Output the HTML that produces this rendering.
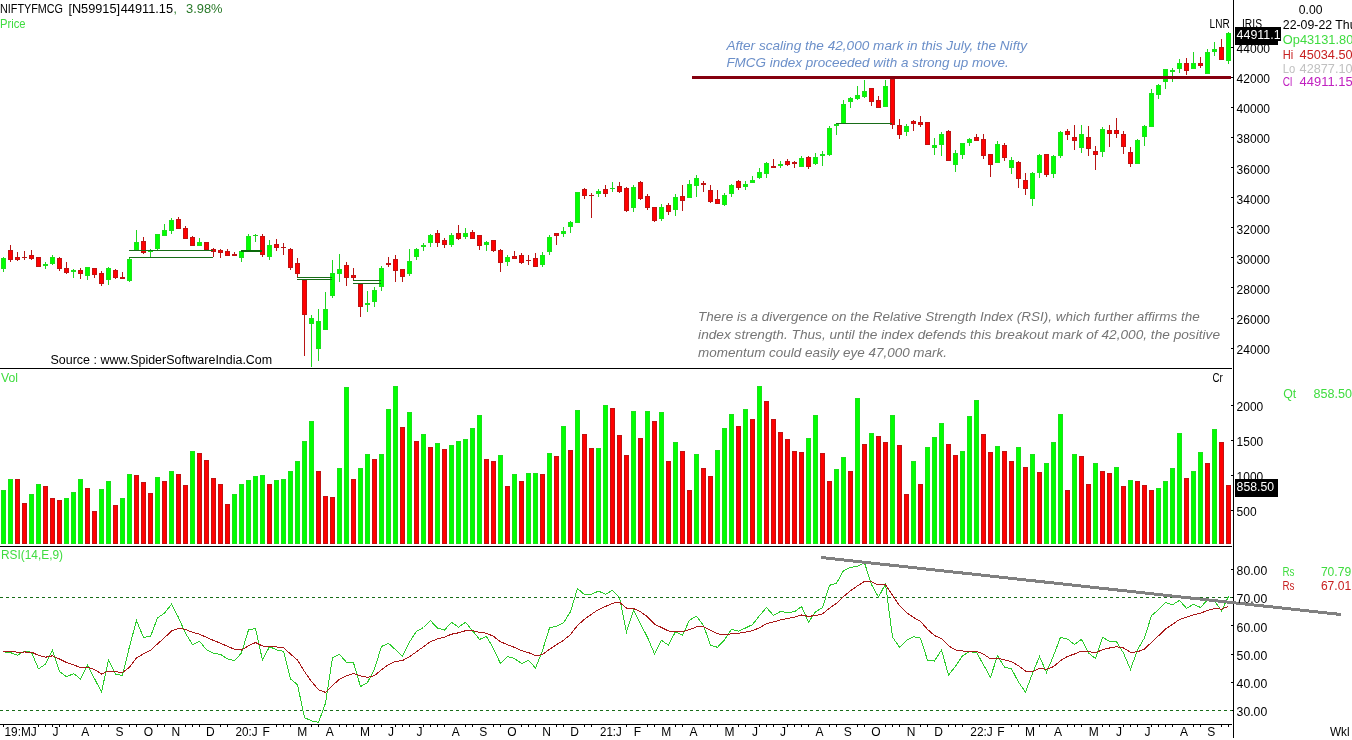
<!DOCTYPE html>
<html><head><meta charset="utf-8"><title>NIFTYFMCG Weekly Chart</title>
<style>html,body{margin:0;padding:0;background:#fff}body{width:1352px;height:740px;overflow:hidden}svg{display:block}text{font-family:"Liberation Sans",sans-serif;font-size:12px}.it{font-style:italic;font-size:13.2px}.g{fill:#00ff00;stroke:#1ce01c}.r{fill:#ff0000;stroke:#c01212}.gw{fill:#1fd51f}.rw{fill:#b81414}</style></head><body>
<svg width="1352" height="740" viewBox="0 0 1352 740">
<rect x="0" y="0" width="1352" height="740" fill="#fff"/>
<g shape-rendering="crispEdges" fill="#000">
<rect x="1233" y="0" width="1" height="738"/>
<rect x="0" y="368" width="1232" height="1"/>
<rect x="0" y="546" width="1232" height="1"/>
<rect x="0" y="724" width="1232" height="1"/>
<rect x="1231" y="348" width="2" height="1"/>
<rect x="1231" y="318" width="2" height="1"/>
<rect x="1231" y="287" width="2" height="1"/>
<rect x="1231" y="257" width="2" height="1"/>
<rect x="1231" y="227" width="2" height="1"/>
<rect x="1231" y="197" width="2" height="1"/>
<rect x="1231" y="167" width="2" height="1"/>
<rect x="1231" y="137" width="2" height="1"/>
<rect x="1231" y="107" width="2" height="1"/>
<rect x="1231" y="77" width="2" height="1"/>
<rect x="1231" y="47" width="2" height="1"/>
<rect x="1231" y="510" width="2" height="1"/>
<rect x="1231" y="475" width="2" height="1"/>
<rect x="1231" y="440" width="2" height="1"/>
<rect x="1231" y="405" width="2" height="1"/>
<rect x="1231" y="710" width="2" height="1"/>
<rect x="1231" y="682" width="2" height="1"/>
<rect x="1231" y="654" width="2" height="1"/>
<rect x="1231" y="625" width="2" height="1"/>
<rect x="1231" y="597" width="2" height="1"/>
<rect x="1231" y="569" width="2" height="1"/>
</g>
<g shape-rendering="crispEdges">
<rect class="gw" x="3" y="257" width="1" height="15"/>
<rect class="g" x="1.5" y="258.5" width="4" height="10"/>
<rect class="rw" x="10" y="245" width="1" height="17"/>
<rect class="r" x="8.5" y="250.5" width="4" height="9"/>
<rect class="rw" x="17" y="252" width="1" height="9"/>
<rect class="r" x="15.5" y="257.5" width="4" height="2"/>
<rect class="rw" x="24" y="251" width="1" height="9"/>
<rect class="rw" x="22" y="257" width="5" height="1"/>
<rect class="rw" x="31" y="250" width="1" height="10"/>
<rect class="r" x="29.5" y="255.5" width="4" height="3"/>
<rect class="r" x="36.5" y="257.5" width="4" height="9"/>
<rect class="gw" x="45" y="262" width="1" height="7"/>
<rect class="g" x="43.5" y="264.5" width="4" height="1"/>
<rect class="gw" x="52" y="255" width="1" height="10"/>
<rect class="g" x="50.5" y="257.5" width="4" height="6"/>
<rect class="rw" x="59" y="257" width="1" height="14"/>
<rect class="r" x="57.5" y="258.5" width="4" height="10"/>
<rect class="rw" x="66" y="262" width="1" height="12"/>
<rect class="r" x="64.5" y="268.5" width="4" height="4"/>
<rect class="gw" x="73" y="269" width="1" height="9"/>
<rect class="g" x="71.5" y="270.5" width="4" height="1"/>
<rect class="rw" x="80" y="268" width="1" height="11"/>
<rect class="r" x="78.5" y="270.5" width="4" height="3"/>
<rect class="gw" x="87" y="267" width="1" height="13"/>
<rect class="g" x="85.5" y="267.5" width="4" height="8"/>
<rect class="rw" x="94" y="268" width="1" height="10"/>
<rect class="r" x="92.5" y="268.5" width="4" height="6"/>
<rect class="rw" x="101" y="271" width="1" height="15"/>
<rect class="r" x="99.5" y="273.5" width="4" height="10"/>
<rect class="gw" x="108" y="267" width="1" height="18"/>
<rect class="g" x="106.5" y="268.5" width="4" height="11"/>
<rect class="rw" x="115" y="269" width="1" height="10"/>
<rect class="r" x="113.5" y="270.5" width="4" height="7"/>
<rect class="rw" x="122" y="272" width="1" height="7"/>
<rect class="r" x="120.5" y="277.5" width="4" height="1"/>
<rect class="gw" x="129" y="258" width="1" height="24"/>
<rect class="g" x="127.5" y="259.5" width="4" height="21"/>
<rect class="gw" x="136" y="230" width="1" height="21"/>
<rect class="g" x="134.5" y="242.5" width="4" height="7"/>
<rect class="rw" x="143" y="237" width="1" height="17"/>
<rect class="r" x="141.5" y="241.5" width="4" height="11"/>
<rect class="gw" x="150" y="249" width="1" height="8"/>
<rect class="g" x="148.5" y="250.5" width="4" height="1"/>
<rect class="gw" x="157" y="234" width="1" height="16"/>
<rect class="g" x="155.5" y="234.5" width="4" height="14"/>
<rect class="gw" x="164" y="224" width="1" height="12"/>
<rect class="g" x="162.5" y="230.5" width="4" height="5"/>
<rect class="gw" x="171" y="218" width="1" height="16"/>
<rect class="g" x="169.5" y="220.5" width="4" height="10"/>
<rect class="rw" x="178" y="217" width="1" height="12"/>
<rect class="r" x="176.5" y="219.5" width="4" height="9"/>
<rect class="rw" x="185" y="226" width="1" height="13"/>
<rect class="r" x="183.5" y="228.5" width="4" height="10"/>
<rect class="rw" x="192" y="236" width="1" height="10"/>
<rect class="r" x="190.5" y="237.5" width="4" height="8"/>
<rect class="gw" x="199" y="238" width="1" height="8"/>
<rect class="g" x="197.5" y="242.5" width="4" height="3"/>
<rect class="r" x="204.5" y="242.5" width="4" height="7"/>
<rect class="rw" x="213" y="248" width="1" height="9"/>
<rect class="r" x="211.5" y="249.5" width="4" height="2"/>
<rect class="rw" x="220" y="249" width="1" height="9"/>
<rect class="r" x="218.5" y="250.5" width="4" height="2"/>
<rect class="rw" x="227" y="249" width="1" height="7"/>
<rect class="r" x="225.5" y="251.5" width="4" height="4"/>
<rect class="rw" x="234" y="252" width="1" height="4"/>
<rect class="r" x="232.5" y="254.5" width="4" height="1"/>
<rect class="gw" x="241" y="250" width="1" height="12"/>
<rect class="g" x="239.5" y="251.5" width="4" height="6"/>
<rect class="gw" x="248" y="234" width="1" height="17"/>
<rect class="g" x="246.5" y="236.5" width="4" height="14"/>
<rect class="gw" x="255" y="234" width="1" height="8"/>
<rect class="gw" x="253" y="235" width="5" height="1"/>
<rect class="rw" x="262" y="234" width="1" height="23"/>
<rect class="r" x="260.5" y="236.5" width="4" height="18"/>
<rect class="gw" x="269" y="240" width="1" height="20"/>
<rect class="g" x="267.5" y="245.5" width="4" height="11"/>
<rect class="rw" x="276" y="239" width="1" height="12"/>
<rect class="r" x="274.5" y="244.5" width="4" height="3"/>
<rect class="rw" x="283" y="243" width="1" height="12"/>
<rect class="rw" x="281" y="247" width="5" height="1"/>
<rect class="rw" x="290" y="248" width="1" height="22"/>
<rect class="r" x="288.5" y="249.5" width="4" height="18"/>
<rect class="rw" x="297" y="258" width="1" height="19"/>
<rect class="r" x="295.5" y="263.5" width="4" height="10"/>
<rect class="rw" x="304" y="280" width="1" height="76"/>
<rect class="r" x="302.5" y="280.5" width="4" height="34"/>
<rect class="gw" x="311" y="315" width="1" height="52"/>
<rect class="g" x="309.5" y="318.5" width="4" height="5"/>
<rect class="gw" x="318" y="309" width="1" height="52"/>
<rect class="g" x="316.5" y="321.5" width="4" height="27"/>
<rect class="gw" x="325" y="292" width="1" height="38"/>
<rect class="g" x="323.5" y="309.5" width="4" height="20"/>
<rect class="gw" x="332" y="260" width="1" height="38"/>
<rect class="g" x="330.5" y="273.5" width="4" height="22"/>
<rect class="gw" x="339" y="254" width="1" height="28"/>
<rect class="g" x="337.5" y="269.5" width="4" height="4"/>
<rect class="rw" x="346" y="262" width="1" height="24"/>
<rect class="r" x="344.5" y="265.5" width="4" height="12"/>
<rect class="rw" x="353" y="268" width="1" height="12"/>
<rect class="r" x="351.5" y="275.5" width="4" height="2"/>
<rect class="rw" x="360" y="284" width="1" height="33"/>
<rect class="r" x="358.5" y="284.5" width="4" height="22"/>
<rect class="gw" x="367" y="291" width="1" height="21"/>
<rect class="g" x="365.5" y="303.5" width="4" height="1"/>
<rect class="gw" x="374" y="287" width="1" height="20"/>
<rect class="g" x="372.5" y="290.5" width="4" height="11"/>
<rect class="gw" x="381" y="266" width="1" height="25"/>
<rect class="g" x="379.5" y="268.5" width="4" height="18"/>
<rect class="rw" x="388" y="257" width="1" height="10"/>
<rect class="r" x="386.5" y="263.5" width="4" height="1"/>
<rect class="rw" x="395" y="255" width="1" height="27"/>
<rect class="r" x="393.5" y="259.5" width="4" height="11"/>
<rect class="rw" x="402" y="269" width="1" height="13"/>
<rect class="r" x="400.5" y="269.5" width="4" height="7"/>
<rect class="gw" x="409" y="249" width="1" height="27"/>
<rect class="g" x="407.5" y="261.5" width="4" height="12"/>
<rect class="gw" x="416" y="248" width="1" height="12"/>
<rect class="g" x="414.5" y="249.5" width="4" height="7"/>
<rect class="gw" x="423" y="243" width="1" height="8"/>
<rect class="g" x="421.5" y="245.5" width="4" height="1"/>
<rect class="gw" x="430" y="234" width="1" height="13"/>
<rect class="g" x="428.5" y="235.5" width="4" height="7"/>
<rect class="rw" x="437" y="230" width="1" height="17"/>
<rect class="r" x="435.5" y="233.5" width="4" height="9"/>
<rect class="rw" x="444" y="238" width="1" height="10"/>
<rect class="r" x="442.5" y="240.5" width="4" height="4"/>
<rect class="gw" x="451" y="233" width="1" height="14"/>
<rect class="g" x="449.5" y="235.5" width="4" height="9"/>
<rect class="rw" x="458" y="225" width="1" height="15"/>
<rect class="r" x="456.5" y="233.5" width="4" height="5"/>
<rect class="gw" x="465" y="228" width="1" height="11"/>
<rect class="g" x="463.5" y="233.5" width="4" height="3"/>
<rect class="rw" x="472" y="230" width="1" height="9"/>
<rect class="r" x="470.5" y="232.5" width="4" height="6"/>
<rect class="rw" x="479" y="235" width="1" height="15"/>
<rect class="r" x="477.5" y="235.5" width="4" height="10"/>
<rect class="gw" x="486" y="241" width="1" height="10"/>
<rect class="g" x="484.5" y="242.5" width="4" height="2"/>
<rect class="rw" x="493" y="240" width="1" height="12"/>
<rect class="r" x="491.5" y="240.5" width="4" height="10"/>
<rect class="rw" x="500" y="249" width="1" height="23"/>
<rect class="r" x="498.5" y="250.5" width="4" height="12"/>
<rect class="gw" x="507" y="255" width="1" height="11"/>
<rect class="g" x="505.5" y="257.5" width="4" height="4"/>
<rect class="rw" x="514" y="251" width="1" height="8"/>
<rect class="r" x="512.5" y="256.5" width="4" height="2"/>
<rect class="rw" x="521" y="253" width="1" height="11"/>
<rect class="r" x="519.5" y="255.5" width="4" height="7"/>
<rect class="rw" x="528" y="255" width="1" height="10"/>
<rect class="rw" x="526" y="260" width="5" height="1"/>
<rect class="rw" x="535" y="253" width="1" height="14"/>
<rect class="r" x="533.5" y="258.5" width="4" height="8"/>
<rect class="gw" x="542" y="252" width="1" height="15"/>
<rect class="g" x="540.5" y="255.5" width="4" height="9"/>
<rect class="gw" x="549" y="235" width="1" height="20"/>
<rect class="g" x="547.5" y="237.5" width="4" height="14"/>
<rect class="rw" x="556" y="233" width="1" height="12"/>
<rect class="r" x="554.5" y="233.5" width="4" height="2"/>
<rect class="gw" x="563" y="227" width="1" height="10"/>
<rect class="g" x="561.5" y="231.5" width="4" height="2"/>
<rect class="gw" x="570" y="221" width="1" height="12"/>
<rect class="g" x="568.5" y="222.5" width="4" height="4"/>
<rect class="g" x="575.5" y="192.5" width="4" height="30"/>
<rect class="rw" x="584" y="188" width="1" height="11"/>
<rect class="r" x="582.5" y="189.5" width="4" height="6"/>
<rect class="rw" x="591" y="193" width="1" height="25"/>
<rect class="rw" x="589" y="195" width="5" height="1"/>
<rect class="gw" x="598" y="189" width="1" height="8"/>
<rect class="g" x="596.5" y="191.5" width="4" height="2"/>
<rect class="rw" x="605" y="185" width="1" height="12"/>
<rect class="r" x="603.5" y="189.5" width="4" height="4"/>
<rect class="gw" x="612" y="182" width="1" height="10"/>
<rect class="gw" x="610" y="188" width="5" height="1"/>
<rect class="rw" x="619" y="182" width="1" height="11"/>
<rect class="r" x="617.5" y="186.5" width="4" height="5"/>
<rect class="rw" x="626" y="187" width="1" height="25"/>
<rect class="r" x="624.5" y="188.5" width="4" height="22"/>
<rect class="gw" x="633" y="185" width="1" height="27"/>
<rect class="g" x="631.5" y="187.5" width="4" height="20"/>
<rect class="rw" x="640" y="181" width="1" height="19"/>
<rect class="r" x="638.5" y="182.5" width="4" height="16"/>
<rect class="rw" x="647" y="194" width="1" height="16"/>
<rect class="r" x="645.5" y="196.5" width="4" height="11"/>
<rect class="rw" x="654" y="207" width="1" height="15"/>
<rect class="r" x="652.5" y="207.5" width="4" height="13"/>
<rect class="gw" x="661" y="204" width="1" height="17"/>
<rect class="g" x="659.5" y="207.5" width="4" height="11"/>
<rect class="rw" x="668" y="203" width="1" height="12"/>
<rect class="r" x="666.5" y="205.5" width="4" height="6"/>
<rect class="gw" x="675" y="194" width="1" height="22"/>
<rect class="g" x="673.5" y="197.5" width="4" height="12"/>
<rect class="rw" x="682" y="185" width="1" height="26"/>
<rect class="r" x="680.5" y="196.5" width="4" height="4"/>
<rect class="gw" x="689" y="180" width="1" height="18"/>
<rect class="g" x="687.5" y="184.5" width="4" height="13"/>
<rect class="gw" x="696" y="175" width="1" height="22"/>
<rect class="g" x="694.5" y="178.5" width="4" height="7"/>
<rect class="rw" x="703" y="181" width="1" height="11"/>
<rect class="r" x="701.5" y="183.5" width="4" height="1"/>
<rect class="rw" x="710" y="185" width="1" height="18"/>
<rect class="r" x="708.5" y="190.5" width="4" height="11"/>
<rect class="rw" x="717" y="190" width="1" height="14"/>
<rect class="r" x="715.5" y="199.5" width="4" height="4"/>
<rect class="gw" x="724" y="193" width="1" height="13"/>
<rect class="g" x="722.5" y="195.5" width="4" height="9"/>
<rect class="gw" x="731" y="184" width="1" height="13"/>
<rect class="g" x="729.5" y="185.5" width="4" height="8"/>
<rect class="rw" x="738" y="180" width="1" height="10"/>
<rect class="r" x="736.5" y="181.5" width="4" height="6"/>
<rect class="gw" x="745" y="181" width="1" height="9"/>
<rect class="g" x="743.5" y="184.5" width="4" height="2"/>
<rect class="gw" x="752" y="176" width="1" height="7"/>
<rect class="g" x="750.5" y="180.5" width="4" height="2"/>
<rect class="gw" x="759" y="168" width="1" height="11"/>
<rect class="g" x="757.5" y="172.5" width="4" height="5"/>
<rect class="gw" x="766" y="162" width="1" height="16"/>
<rect class="g" x="764.5" y="163.5" width="4" height="10"/>
<rect class="rw" x="773" y="159" width="1" height="9"/>
<rect class="r" x="771.5" y="166.5" width="4" height="1"/>
<rect class="gw" x="780" y="161" width="1" height="7"/>
<rect class="g" x="778.5" y="164.5" width="4" height="1"/>
<rect class="rw" x="787" y="159" width="1" height="7"/>
<rect class="r" x="785.5" y="161.5" width="4" height="3"/>
<rect class="rw" x="794" y="161" width="1" height="7"/>
<rect class="r" x="792.5" y="162.5" width="4" height="1"/>
<rect class="gw" x="801" y="156" width="1" height="11"/>
<rect class="g" x="799.5" y="158.5" width="4" height="8"/>
<rect class="rw" x="808" y="156" width="1" height="13"/>
<rect class="r" x="806.5" y="157.5" width="4" height="9"/>
<rect class="gw" x="815" y="153" width="1" height="12"/>
<rect class="g" x="813.5" y="157.5" width="4" height="6"/>
<rect class="gw" x="822" y="151" width="1" height="15"/>
<rect class="g" x="820.5" y="154.5" width="4" height="1"/>
<rect class="gw" x="829" y="126" width="1" height="30"/>
<rect class="g" x="827.5" y="128.5" width="4" height="26"/>
<rect class="gw" x="836" y="123" width="1" height="12"/>
<rect class="g" x="834.5" y="124.5" width="4" height="1"/>
<rect class="gw" x="843" y="100" width="1" height="24"/>
<rect class="g" x="841.5" y="104.5" width="4" height="19"/>
<rect class="gw" x="850" y="97" width="1" height="11"/>
<rect class="g" x="848.5" y="98.5" width="4" height="3"/>
<rect class="gw" x="857" y="86" width="1" height="14"/>
<rect class="g" x="855.5" y="95.5" width="4" height="3"/>
<rect class="gw" x="864" y="80" width="1" height="18"/>
<rect class="g" x="862.5" y="91.5" width="4" height="5"/>
<rect class="rw" x="871" y="88" width="1" height="18"/>
<rect class="r" x="869.5" y="88.5" width="4" height="13"/>
<rect class="rw" x="878" y="96" width="1" height="12"/>
<rect class="r" x="876.5" y="100.5" width="4" height="7"/>
<rect class="gw" x="885" y="80" width="1" height="27"/>
<rect class="g" x="883.5" y="86.5" width="4" height="20"/>
<rect class="rw" x="892" y="79" width="1" height="50"/>
<rect class="r" x="890.5" y="79.5" width="4" height="45"/>
<rect class="rw" x="899" y="119" width="1" height="20"/>
<rect class="r" x="897.5" y="125.5" width="4" height="9"/>
<rect class="gw" x="906" y="124" width="1" height="12"/>
<rect class="g" x="904.5" y="126.5" width="4" height="5"/>
<rect class="rw" x="913" y="120" width="1" height="11"/>
<rect class="r" x="911.5" y="121.5" width="4" height="2"/>
<rect class="rw" x="920" y="116" width="1" height="11"/>
<rect class="r" x="918.5" y="122.5" width="4" height="2"/>
<rect class="r" x="925.5" y="122.5" width="4" height="22"/>
<rect class="gw" x="934" y="138" width="1" height="17"/>
<rect class="g" x="932.5" y="145.5" width="4" height="2"/>
<rect class="gw" x="941" y="132" width="1" height="24"/>
<rect class="g" x="939.5" y="134.5" width="4" height="10"/>
<rect class="rw" x="948" y="130" width="1" height="31"/>
<rect class="r" x="946.5" y="131.5" width="4" height="29"/>
<rect class="gw" x="955" y="150" width="1" height="22"/>
<rect class="g" x="953.5" y="153.5" width="4" height="11"/>
<rect class="gw" x="962" y="143" width="1" height="16"/>
<rect class="g" x="960.5" y="143.5" width="4" height="11"/>
<rect class="gw" x="969" y="138" width="1" height="8"/>
<rect class="g" x="967.5" y="139.5" width="4" height="3"/>
<rect class="rw" x="976" y="134" width="1" height="7"/>
<rect class="r" x="974.5" y="137.5" width="4" height="3"/>
<rect class="rw" x="983" y="134" width="1" height="25"/>
<rect class="r" x="981.5" y="139.5" width="4" height="16"/>
<rect class="rw" x="990" y="154" width="1" height="23"/>
<rect class="r" x="988.5" y="154.5" width="4" height="10"/>
<rect class="gw" x="997" y="141" width="1" height="22"/>
<rect class="g" x="995.5" y="144.5" width="4" height="18"/>
<rect class="rw" x="1004" y="143" width="1" height="18"/>
<rect class="r" x="1002.5" y="145.5" width="4" height="12"/>
<rect class="gw" x="1011" y="157" width="1" height="17"/>
<rect class="g" x="1009.5" y="160.5" width="4" height="7"/>
<rect class="rw" x="1018" y="161" width="1" height="27"/>
<rect class="r" x="1016.5" y="162.5" width="4" height="16"/>
<rect class="rw" x="1025" y="173" width="1" height="22"/>
<rect class="r" x="1023.5" y="180.5" width="4" height="8"/>
<rect class="gw" x="1032" y="172" width="1" height="34"/>
<rect class="g" x="1030.5" y="173.5" width="4" height="25"/>
<rect class="gw" x="1039" y="154" width="1" height="24"/>
<rect class="g" x="1037.5" y="155.5" width="4" height="17"/>
<rect class="rw" x="1046" y="154" width="1" height="23"/>
<rect class="r" x="1044.5" y="154.5" width="4" height="20"/>
<rect class="gw" x="1053" y="155" width="1" height="23"/>
<rect class="g" x="1051.5" y="156.5" width="4" height="17"/>
<rect class="gw" x="1060" y="131" width="1" height="27"/>
<rect class="g" x="1058.5" y="132.5" width="4" height="23"/>
<rect class="rw" x="1067" y="129" width="1" height="11"/>
<rect class="r" x="1065.5" y="131.5" width="4" height="3"/>
<rect class="rw" x="1074" y="125" width="1" height="25"/>
<rect class="r" x="1072.5" y="137.5" width="4" height="3"/>
<rect class="gw" x="1081" y="125" width="1" height="28"/>
<rect class="g" x="1079.5" y="134.5" width="4" height="13"/>
<rect class="rw" x="1088" y="126" width="1" height="30"/>
<rect class="r" x="1086.5" y="137.5" width="4" height="11"/>
<rect class="rw" x="1095" y="146" width="1" height="24"/>
<rect class="r" x="1093.5" y="151.5" width="4" height="3"/>
<rect class="gw" x="1102" y="127" width="1" height="30"/>
<rect class="g" x="1100.5" y="129.5" width="4" height="22"/>
<rect class="rw" x="1109" y="125" width="1" height="22"/>
<rect class="r" x="1107.5" y="130.5" width="4" height="3"/>
<rect class="rw" x="1116" y="118" width="1" height="20"/>
<rect class="r" x="1114.5" y="130.5" width="4" height="3"/>
<rect class="rw" x="1123" y="131" width="1" height="23"/>
<rect class="r" x="1121.5" y="134.5" width="4" height="12"/>
<rect class="rw" x="1130" y="147" width="1" height="20"/>
<rect class="r" x="1128.5" y="152.5" width="4" height="11"/>
<rect class="gw" x="1137" y="139" width="1" height="25"/>
<rect class="g" x="1135.5" y="140.5" width="4" height="23"/>
<rect class="gw" x="1144" y="125" width="1" height="21"/>
<rect class="g" x="1142.5" y="126.5" width="4" height="10"/>
<rect class="gw" x="1151" y="89" width="1" height="38"/>
<rect class="g" x="1149.5" y="93.5" width="4" height="33"/>
<rect class="gw" x="1158" y="84" width="1" height="15"/>
<rect class="g" x="1156.5" y="85.5" width="4" height="9"/>
<rect class="gw" x="1165" y="69" width="1" height="20"/>
<rect class="g" x="1163.5" y="69.5" width="4" height="12"/>
<rect class="gw" x="1172" y="68" width="1" height="14"/>
<rect class="g" x="1170.5" y="70.5" width="4" height="1"/>
<rect class="gw" x="1179" y="59" width="1" height="14"/>
<rect class="g" x="1177.5" y="63.5" width="4" height="5"/>
<rect class="rw" x="1186" y="58" width="1" height="17"/>
<rect class="r" x="1184.5" y="63.5" width="4" height="7"/>
<rect class="gw" x="1193" y="52" width="1" height="17"/>
<rect class="g" x="1191.5" y="63.5" width="4" height="5"/>
<rect class="rw" x="1200" y="57" width="1" height="11"/>
<rect class="r" x="1198.5" y="63.5" width="4" height="2"/>
<rect class="gw" x="1207" y="49" width="1" height="25"/>
<rect class="g" x="1205.5" y="52.5" width="4" height="21"/>
<rect class="gw" x="1214" y="42" width="1" height="14"/>
<rect class="g" x="1212.5" y="49.5" width="4" height="2"/>
<rect class="rw" x="1221" y="39" width="1" height="21"/>
<rect class="r" x="1219.5" y="47.5" width="4" height="12"/>
<rect class="gw" x="1228" y="32" width="1" height="32"/>
<rect class="g" x="1226.5" y="33.5" width="4" height="27"/>
</g>
<g shape-rendering="crispEdges">
<rect x="692" y="76" width="539" height="3" fill="#85000f"/>
<rect x="129" y="250" width="84" height="1" fill="#186c18"/>
<rect x="129" y="257" width="84" height="1" fill="#186c18"/>
<rect x="297" y="277" width="35" height="1" fill="#186c18"/>
<rect x="297" y="279" width="35" height="1" fill="#186c18"/>
<rect x="353" y="280" width="28" height="1" fill="#186c18"/>
<rect x="353" y="283" width="28" height="1" fill="#186c18"/>
<rect x="836" y="123" width="56" height="1" fill="#186c18"/>
<rect x="241" y="250" width="21" height="2" fill="#0a6a0a"/>
</g>
<g shape-rendering="crispEdges">
<rect class="g" x="1.5" y="490.5" width="4" height="53"/>
<rect class="g" x="8.5" y="479.5" width="4" height="64"/>
<rect class="r" x="15.5" y="479.5" width="4" height="64"/>
<rect class="r" x="22.5" y="503.5" width="4" height="40"/>
<rect class="g" x="29.5" y="494.5" width="4" height="49"/>
<rect class="g" x="36.5" y="484.5" width="4" height="59"/>
<rect class="r" x="43.5" y="486.5" width="4" height="57"/>
<rect class="r" x="50.5" y="498.5" width="4" height="45"/>
<rect class="r" x="57.5" y="500.5" width="4" height="43"/>
<rect class="g" x="64.5" y="498.5" width="4" height="45"/>
<rect class="g" x="71.5" y="492.5" width="4" height="51"/>
<rect class="g" x="78.5" y="479.5" width="4" height="64"/>
<rect class="r" x="85.5" y="488.5" width="4" height="55"/>
<rect class="r" x="92.5" y="511.5" width="4" height="32"/>
<rect class="g" x="99.5" y="489.5" width="4" height="54"/>
<rect class="g" x="106.5" y="481.5" width="4" height="62"/>
<rect class="r" x="113.5" y="505.5" width="4" height="38"/>
<rect class="g" x="120.5" y="498.5" width="4" height="45"/>
<rect class="g" x="127.5" y="474.5" width="4" height="69"/>
<rect class="r" x="134.5" y="475.5" width="4" height="68"/>
<rect class="r" x="141.5" y="482.5" width="4" height="61"/>
<rect class="r" x="148.5" y="493.5" width="4" height="50"/>
<rect class="g" x="155.5" y="477.5" width="4" height="66"/>
<rect class="r" x="162.5" y="481.5" width="4" height="62"/>
<rect class="g" x="169.5" y="471.5" width="4" height="72"/>
<rect class="r" x="176.5" y="474.5" width="4" height="69"/>
<rect class="r" x="183.5" y="485.5" width="4" height="58"/>
<rect class="g" x="190.5" y="451.5" width="4" height="92"/>
<rect class="r" x="197.5" y="453.5" width="4" height="90"/>
<rect class="r" x="204.5" y="460.5" width="4" height="83"/>
<rect class="r" x="211.5" y="478.5" width="4" height="65"/>
<rect class="r" x="218.5" y="484.5" width="4" height="59"/>
<rect class="r" x="225.5" y="504.5" width="4" height="39"/>
<rect class="g" x="232.5" y="494.5" width="4" height="49"/>
<rect class="g" x="239.5" y="484.5" width="4" height="59"/>
<rect class="g" x="246.5" y="480.5" width="4" height="63"/>
<rect class="g" x="253.5" y="476.5" width="4" height="67"/>
<rect class="g" x="260.5" y="475.5" width="4" height="68"/>
<rect class="r" x="267.5" y="484.5" width="4" height="59"/>
<rect class="g" x="274.5" y="480.5" width="4" height="63"/>
<rect class="g" x="281.5" y="479.5" width="4" height="64"/>
<rect class="g" x="288.5" y="471.5" width="4" height="72"/>
<rect class="g" x="295.5" y="461.5" width="4" height="82"/>
<rect class="g" x="302.5" y="441.5" width="4" height="102"/>
<rect class="g" x="309.5" y="421.5" width="4" height="122"/>
<rect class="r" x="316.5" y="471.5" width="4" height="72"/>
<rect class="r" x="323.5" y="496.5" width="4" height="47"/>
<rect class="r" x="330.5" y="497.5" width="4" height="46"/>
<rect class="g" x="337.5" y="468.5" width="4" height="75"/>
<rect class="g" x="344.5" y="387.5" width="4" height="156"/>
<rect class="r" x="351.5" y="479.5" width="4" height="64"/>
<rect class="g" x="358.5" y="468.5" width="4" height="75"/>
<rect class="g" x="365.5" y="454.5" width="4" height="89"/>
<rect class="r" x="372.5" y="459.5" width="4" height="84"/>
<rect class="g" x="379.5" y="454.5" width="4" height="89"/>
<rect class="g" x="386.5" y="409.5" width="4" height="134"/>
<rect class="g" x="393.5" y="386.5" width="4" height="157"/>
<rect class="r" x="400.5" y="427.5" width="4" height="116"/>
<rect class="g" x="407.5" y="412.5" width="4" height="131"/>
<rect class="r" x="414.5" y="441.5" width="4" height="102"/>
<rect class="g" x="421.5" y="434.5" width="4" height="109"/>
<rect class="r" x="428.5" y="447.5" width="4" height="96"/>
<rect class="g" x="435.5" y="443.5" width="4" height="100"/>
<rect class="r" x="442.5" y="449.5" width="4" height="94"/>
<rect class="g" x="449.5" y="445.5" width="4" height="98"/>
<rect class="g" x="456.5" y="441.5" width="4" height="102"/>
<rect class="g" x="463.5" y="439.5" width="4" height="104"/>
<rect class="g" x="470.5" y="428.5" width="4" height="115"/>
<rect class="g" x="477.5" y="415.5" width="4" height="128"/>
<rect class="r" x="484.5" y="459.5" width="4" height="84"/>
<rect class="r" x="491.5" y="461.5" width="4" height="82"/>
<rect class="g" x="498.5" y="455.5" width="4" height="88"/>
<rect class="r" x="505.5" y="486.5" width="4" height="57"/>
<rect class="g" x="512.5" y="474.5" width="4" height="69"/>
<rect class="r" x="519.5" y="481.5" width="4" height="62"/>
<rect class="g" x="526.5" y="473.5" width="4" height="70"/>
<rect class="g" x="533.5" y="473.5" width="4" height="70"/>
<rect class="r" x="540.5" y="474.5" width="4" height="69"/>
<rect class="g" x="547.5" y="453.5" width="4" height="90"/>
<rect class="r" x="554.5" y="456.5" width="4" height="87"/>
<rect class="g" x="561.5" y="426.5" width="4" height="117"/>
<rect class="r" x="568.5" y="450.5" width="4" height="93"/>
<rect class="g" x="575.5" y="410.5" width="4" height="133"/>
<rect class="r" x="582.5" y="434.5" width="4" height="109"/>
<rect class="r" x="589.5" y="448.5" width="4" height="95"/>
<rect class="g" x="596.5" y="448.5" width="4" height="95"/>
<rect class="g" x="603.5" y="405.5" width="4" height="138"/>
<rect class="r" x="610.5" y="408.5" width="4" height="135"/>
<rect class="r" x="617.5" y="435.5" width="4" height="108"/>
<rect class="r" x="624.5" y="455.5" width="4" height="88"/>
<rect class="g" x="631.5" y="411.5" width="4" height="132"/>
<rect class="r" x="638.5" y="438.5" width="4" height="105"/>
<rect class="g" x="645.5" y="411.5" width="4" height="132"/>
<rect class="r" x="652.5" y="421.5" width="4" height="122"/>
<rect class="g" x="659.5" y="412.5" width="4" height="131"/>
<rect class="r" x="666.5" y="461.5" width="4" height="82"/>
<rect class="g" x="673.5" y="442.5" width="4" height="101"/>
<rect class="r" x="680.5" y="451.5" width="4" height="92"/>
<rect class="r" x="687.5" y="490.5" width="4" height="53"/>
<rect class="g" x="694.5" y="454.5" width="4" height="89"/>
<rect class="r" x="701.5" y="468.5" width="4" height="75"/>
<rect class="r" x="708.5" y="476.5" width="4" height="67"/>
<rect class="g" x="715.5" y="450.5" width="4" height="93"/>
<rect class="g" x="722.5" y="428.5" width="4" height="115"/>
<rect class="g" x="729.5" y="414.5" width="4" height="129"/>
<rect class="r" x="736.5" y="426.5" width="4" height="117"/>
<rect class="g" x="743.5" y="409.5" width="4" height="134"/>
<rect class="r" x="750.5" y="419.5" width="4" height="124"/>
<rect class="g" x="757.5" y="386.5" width="4" height="157"/>
<rect class="r" x="764.5" y="401.5" width="4" height="142"/>
<rect class="r" x="771.5" y="419.5" width="4" height="124"/>
<rect class="r" x="778.5" y="432.5" width="4" height="111"/>
<rect class="r" x="785.5" y="439.5" width="4" height="104"/>
<rect class="r" x="792.5" y="451.5" width="4" height="92"/>
<rect class="r" x="799.5" y="452.5" width="4" height="91"/>
<rect class="g" x="806.5" y="438.5" width="4" height="105"/>
<rect class="g" x="813.5" y="415.5" width="4" height="128"/>
<rect class="r" x="820.5" y="453.5" width="4" height="90"/>
<rect class="r" x="827.5" y="481.5" width="4" height="62"/>
<rect class="g" x="834.5" y="469.5" width="4" height="74"/>
<rect class="g" x="841.5" y="457.5" width="4" height="86"/>
<rect class="r" x="848.5" y="471.5" width="4" height="72"/>
<rect class="g" x="855.5" y="398.5" width="4" height="145"/>
<rect class="r" x="862.5" y="444.5" width="4" height="99"/>
<rect class="g" x="869.5" y="433.5" width="4" height="110"/>
<rect class="r" x="876.5" y="436.5" width="4" height="107"/>
<rect class="r" x="883.5" y="442.5" width="4" height="101"/>
<rect class="g" x="890.5" y="415.5" width="4" height="128"/>
<rect class="r" x="897.5" y="445.5" width="4" height="98"/>
<rect class="r" x="904.5" y="494.5" width="4" height="49"/>
<rect class="g" x="911.5" y="461.5" width="4" height="82"/>
<rect class="r" x="918.5" y="484.5" width="4" height="59"/>
<rect class="g" x="925.5" y="447.5" width="4" height="96"/>
<rect class="g" x="932.5" y="437.5" width="4" height="106"/>
<rect class="g" x="939.5" y="423.5" width="4" height="120"/>
<rect class="r" x="946.5" y="444.5" width="4" height="99"/>
<rect class="r" x="953.5" y="455.5" width="4" height="88"/>
<rect class="g" x="960.5" y="451.5" width="4" height="92"/>
<rect class="g" x="967.5" y="416.5" width="4" height="127"/>
<rect class="g" x="974.5" y="400.5" width="4" height="143"/>
<rect class="r" x="981.5" y="434.5" width="4" height="109"/>
<rect class="r" x="988.5" y="452.5" width="4" height="91"/>
<rect class="g" x="995.5" y="446.5" width="4" height="97"/>
<rect class="r" x="1002.5" y="451.5" width="4" height="92"/>
<rect class="r" x="1009.5" y="461.5" width="4" height="82"/>
<rect class="g" x="1016.5" y="447.5" width="4" height="96"/>
<rect class="r" x="1023.5" y="467.5" width="4" height="76"/>
<rect class="g" x="1030.5" y="454.5" width="4" height="89"/>
<rect class="r" x="1037.5" y="472.5" width="4" height="71"/>
<rect class="g" x="1044.5" y="463.5" width="4" height="80"/>
<rect class="g" x="1051.5" y="442.5" width="4" height="101"/>
<rect class="g" x="1058.5" y="414.5" width="4" height="129"/>
<rect class="r" x="1065.5" y="490.5" width="4" height="53"/>
<rect class="g" x="1072.5" y="454.5" width="4" height="89"/>
<rect class="r" x="1079.5" y="456.5" width="4" height="87"/>
<rect class="r" x="1086.5" y="484.5" width="4" height="59"/>
<rect class="g" x="1093.5" y="463.5" width="4" height="80"/>
<rect class="r" x="1100.5" y="471.5" width="4" height="72"/>
<rect class="r" x="1107.5" y="473.5" width="4" height="70"/>
<rect class="g" x="1114.5" y="467.5" width="4" height="76"/>
<rect class="r" x="1121.5" y="486.5" width="4" height="57"/>
<rect class="g" x="1128.5" y="480.5" width="4" height="63"/>
<rect class="r" x="1135.5" y="481.5" width="4" height="62"/>
<rect class="r" x="1142.5" y="485.5" width="4" height="58"/>
<rect class="r" x="1149.5" y="490.5" width="4" height="53"/>
<rect class="g" x="1156.5" y="488.5" width="4" height="55"/>
<rect class="g" x="1163.5" y="481.5" width="4" height="62"/>
<rect class="g" x="1170.5" y="468.5" width="4" height="75"/>
<rect class="g" x="1177.5" y="433.5" width="4" height="110"/>
<rect class="r" x="1184.5" y="478.5" width="4" height="65"/>
<rect class="g" x="1191.5" y="471.5" width="4" height="72"/>
<rect class="g" x="1198.5" y="452.5" width="4" height="91"/>
<rect class="r" x="1205.5" y="463.5" width="4" height="80"/>
<rect class="g" x="1212.5" y="429.5" width="4" height="114"/>
<rect class="r" x="1219.5" y="442.5" width="4" height="101"/>
<rect class="r" x="1226.5" y="485.5" width="4" height="58"/>
</g>
<g stroke="#186c18" stroke-width="1" stroke-dasharray="3 3" shape-rendering="crispEdges">
<line x1="0" y1="597.5" x2="1232" y2="597.5"/>
<line x1="0" y1="710.5" x2="1232" y2="710.5"/>
</g>
<polyline points="3.5,651.8 10.5,652.6 17.5,655.2 24.5,651.2 31.5,652.3 38.5,668.9 45.5,664.2 52.5,650.4 59.5,671.5 66.5,676.8 73.5,673.6 80.5,678.9 87.5,665.5 94.5,678.6 101.5,692.1 108.5,659.7 115.5,674.2 122.5,675.5 129.5,646.5 136.5,620.7 143.5,637.3 150.5,636.5 157.5,618.0 164.5,613.0 171.5,604.3 178.5,617.5 185.5,633.3 192.5,644.6 199.5,641.2 206.5,649.7 213.5,653.1 220.5,654.4 227.5,658.9 234.5,660.5 241.5,653.1 248.5,629.9 255.5,628.6 262.5,660.2 269.5,646.5 276.5,649.9 283.5,651.2 290.5,678.9 297.5,684.7 304.5,717.7 311.5,720.8 318.5,722.4 325.5,703.2 332.5,657.8 339.5,654.4 346.5,662.3 353.5,662.8 360.5,686.6 367.5,682.6 374.5,668.9 381.5,646.5 388.5,643.3 395.5,649.7 402.5,656.2 409.5,642.0 416.5,631.2 423.5,627.5 430.5,620.7 437.5,628.0 444.5,630.1 451.5,622.2 458.5,627.2 465.5,622.2 472.5,630.7 479.5,639.4 486.5,636.5 493.5,648.6 500.5,663.6 507.5,656.5 514.5,658.4 521.5,663.6 528.5,660.2 535.5,668.1 542.5,650.4 549.5,628.0 556.5,626.2 563.5,622.8 570.5,611.7 577.5,588.5 584.5,594.6 591.5,594.3 598.5,591.1 605.5,594.3 612.5,590.3 619.5,597.7 626.5,632.0 633.5,610.4 640.5,624.1 647.5,637.3 654.5,653.9 661.5,640.4 668.5,645.2 675.5,631.5 682.5,635.2 689.5,620.1 696.5,616.2 703.5,625.4 710.5,645.2 717.5,647.3 724.5,639.9 731.5,629.4 738.5,631.2 745.5,628.0 752.5,624.6 759.5,615.6 766.5,607.5 773.5,615.4 780.5,611.4 787.5,612.7 794.5,611.7 801.5,606.4 808.5,622.2 815.5,611.7 822.5,607.7 829.5,585.3 836.5,583.2 843.5,570.6 850.5,567.4 857.5,566.1 864.5,562.9 871.5,584.5 878.5,597.2 885.5,583.8 892.5,637.0 899.5,647.3 906.5,640.4 913.5,636.7 920.5,638.1 927.5,660.2 934.5,661.0 941.5,649.9 948.5,675.0 955.5,666.3 962.5,655.7 969.5,651.8 976.5,652.3 983.5,664.9 990.5,677.3 997.5,655.7 1004.5,667.1 1011.5,668.9 1018.5,682.1 1025.5,692.1 1032.5,673.4 1039.5,656.5 1046.5,672.3 1053.5,655.7 1060.5,637.3 1067.5,639.1 1074.5,644.4 1081.5,639.4 1088.5,653.1 1095.5,658.4 1102.5,637.3 1109.5,641.2 1116.5,641.7 1123.5,653.1 1130.5,669.4 1137.5,649.9 1144.5,637.8 1151.5,615.6 1158.5,609.6 1165.5,602.5 1172.5,604.8 1179.5,600.4 1186.5,608.3 1193.5,604.3 1200.5,607.5 1207.5,599.8 1214.5,600.9 1221.5,610.9 1228.5,596.4" fill="none" stroke="#2ccc2c" stroke-width="1" shape-rendering="crispEdges"/>
<polyline points="3.5,651.2 10.5,651.5 17.5,652.2 24.5,652.0 31.5,652.1 38.5,655.4 45.5,657.2 52.5,655.8 59.5,659.0 66.5,662.5 73.5,664.8 80.5,667.6 87.5,667.2 94.5,669.5 101.5,674.0 108.5,671.1 115.5,671.7 122.5,672.5 129.5,667.3 136.5,658.0 143.5,653.8 150.5,650.4 157.5,643.9 164.5,637.7 171.5,631.0 178.5,628.3 185.5,629.3 192.5,632.4 199.5,634.2 206.5,637.3 213.5,640.4 220.5,643.2 227.5,646.3 234.5,649.2 241.5,650.0 248.5,645.9 255.5,642.5 262.5,646.0 269.5,646.1 276.5,646.9 283.5,647.7 290.5,654.0 297.5,660.1 304.5,671.6 311.5,681.5 318.5,689.7 325.5,692.4 332.5,685.5 339.5,679.2 346.5,675.9 353.5,673.3 360.5,675.9 367.5,677.3 374.5,675.6 381.5,669.8 388.5,664.5 395.5,661.5 402.5,660.5 409.5,656.8 416.5,651.7 423.5,646.8 430.5,641.6 437.5,638.9 444.5,637.1 451.5,634.2 458.5,632.8 465.5,630.7 472.5,630.7 479.5,632.4 486.5,633.2 493.5,636.3 500.5,641.8 507.5,644.7 514.5,647.4 521.5,650.7 528.5,652.6 535.5,655.7 542.5,654.6 549.5,649.3 556.5,644.7 563.5,640.3 570.5,634.6 577.5,625.4 584.5,619.2 591.5,614.2 598.5,609.6 605.5,606.5 612.5,603.3 619.5,602.2 626.5,608.1 633.5,608.6 640.5,611.7 647.5,616.8 654.5,624.2 661.5,627.5 668.5,631.0 675.5,631.1 682.5,631.9 689.5,629.6 696.5,626.9 703.5,626.6 710.5,630.3 717.5,633.7 724.5,634.9 731.5,633.8 738.5,633.3 745.5,632.2 752.5,630.7 759.5,627.7 766.5,623.7 773.5,622.0 780.5,619.9 787.5,618.5 794.5,617.1 801.5,615.0 808.5,616.4 815.5,615.5 822.5,613.9 829.5,608.2 836.5,603.2 843.5,596.7 850.5,590.8 857.5,585.9 864.5,581.3 871.5,581.9 878.5,585.0 885.5,584.7 892.5,595.2 899.5,605.6 906.5,612.6 913.5,617.4 920.5,621.5 927.5,629.3 934.5,635.6 941.5,638.5 948.5,645.8 955.5,649.9 962.5,651.0 969.5,651.2 976.5,651.4 983.5,654.1 990.5,658.8 997.5,658.1 1004.5,659.9 1011.5,661.7 1018.5,665.8 1025.5,671.1 1032.5,671.5 1039.5,668.5 1046.5,669.3 1053.5,666.6 1060.5,660.7 1067.5,656.4 1074.5,654.0 1081.5,651.1 1088.5,651.5 1095.5,652.8 1102.5,649.7 1109.5,648.0 1116.5,646.8 1123.5,648.0 1130.5,652.3 1137.5,651.8 1144.5,649.0 1151.5,642.3 1158.5,635.8 1165.5,629.1 1172.5,624.3 1179.5,619.5 1186.5,617.2 1193.5,614.7 1200.5,613.2 1207.5,610.5 1214.5,608.6 1221.5,609.1 1228.5,606.5" fill="none" stroke="#a81818" stroke-width="1" shape-rendering="crispEdges"/>
<line x1="821" y1="557.5" x2="1341" y2="614.5" stroke="#808080" stroke-width="3" shape-rendering="crispEdges"/>
<g fill="#000">
<text x="4.5" y="735.6" textLength="32.2" lengthAdjust="spacingAndGlyphs">19:MJ</text>
<text x="55.5" y="735.6" text-anchor="middle">J</text>
<text x="85.2" y="735.6" text-anchor="middle">A</text>
<text x="119.4" y="735.6" text-anchor="middle">S</text>
<text x="148.5" y="735.6" text-anchor="middle">O</text>
<text x="175.9" y="735.6" text-anchor="middle">N</text>
<text x="210.4" y="735.6" text-anchor="middle">D</text>
<text x="235.5" y="735.6" textLength="22.1" lengthAdjust="spacingAndGlyphs">20:J</text>
<text x="266.2" y="735.6" text-anchor="middle">F</text>
<text x="302.2" y="735.6" text-anchor="middle">M</text>
<text x="329.8" y="735.6" text-anchor="middle">A</text>
<text x="365" y="735.6" text-anchor="middle">M</text>
<text x="391" y="735.6" text-anchor="middle">J</text>
<text x="419.5" y="735.6" text-anchor="middle">J</text>
<text x="455.8" y="735.6" text-anchor="middle">A</text>
<text x="483.3" y="735.6" text-anchor="middle">S</text>
<text x="512" y="735.6" text-anchor="middle">O</text>
<text x="546.5" y="735.6" text-anchor="middle">N</text>
<text x="574.7" y="735.6" text-anchor="middle">D</text>
<text x="600" y="735.6" textLength="21.7" lengthAdjust="spacingAndGlyphs">21:J</text>
<text x="637.3" y="735.6" text-anchor="middle">F</text>
<text x="666.3" y="735.6" text-anchor="middle">M</text>
<text x="693.4" y="735.6" text-anchor="middle">A</text>
<text x="729.6" y="735.6" text-anchor="middle">M</text>
<text x="754.9" y="735.6" text-anchor="middle">J</text>
<text x="783" y="735.6" text-anchor="middle">J</text>
<text x="819.5" y="735.6" text-anchor="middle">A</text>
<text x="847.7" y="735.6" text-anchor="middle">S</text>
<text x="876" y="735.6" text-anchor="middle">O</text>
<text x="911" y="735.6" text-anchor="middle">N</text>
<text x="938.7" y="735.6" text-anchor="middle">D</text>
<text x="970.3" y="735.6" textLength="22.4" lengthAdjust="spacingAndGlyphs">22:J</text>
<text x="1001" y="735.6" text-anchor="middle">F</text>
<text x="1030" y="735.6" text-anchor="middle">M</text>
<text x="1058" y="735.6" text-anchor="middle">A</text>
<text x="1093.7" y="735.6" text-anchor="middle">M</text>
<text x="1119" y="735.6" text-anchor="middle">J</text>
<text x="1147.5" y="735.6" text-anchor="middle">J</text>
<text x="1184" y="735.6" text-anchor="middle">A</text>
<text x="1211.3" y="735.6" text-anchor="middle">S</text>
</g>
<g shape-rendering="crispEdges" fill="#000">
<rect x="3" y="725" width="1" height="2"/>
<rect x="38" y="725" width="1" height="2"/>
<rect x="45" y="725" width="1" height="2"/>
<rect x="52" y="725" width="1" height="2"/>
<rect x="59" y="725" width="1" height="2"/>
<rect x="66" y="725" width="1" height="2"/>
<rect x="73" y="725" width="1" height="2"/>
<rect x="94" y="725" width="1" height="2"/>
<rect x="101" y="725" width="1" height="2"/>
<rect x="108" y="725" width="1" height="2"/>
<rect x="129" y="725" width="1" height="2"/>
<rect x="136" y="725" width="1" height="2"/>
<rect x="157" y="725" width="1" height="2"/>
<rect x="164" y="725" width="1" height="2"/>
<rect x="185" y="725" width="1" height="2"/>
<rect x="192" y="725" width="1" height="2"/>
<rect x="199" y="725" width="1" height="2"/>
<rect x="220" y="725" width="1" height="2"/>
<rect x="227" y="725" width="1" height="2"/>
<rect x="276" y="725" width="1" height="2"/>
<rect x="283" y="725" width="1" height="2"/>
<rect x="290" y="725" width="1" height="2"/>
<rect x="311" y="725" width="1" height="2"/>
<rect x="318" y="725" width="1" height="2"/>
<rect x="339" y="725" width="1" height="2"/>
<rect x="346" y="725" width="1" height="2"/>
<rect x="353" y="725" width="1" height="2"/>
<rect x="374" y="725" width="1" height="2"/>
<rect x="381" y="725" width="1" height="2"/>
<rect x="395" y="725" width="1" height="2"/>
<rect x="402" y="725" width="1" height="2"/>
<rect x="409" y="725" width="1" height="2"/>
<rect x="423" y="725" width="1" height="2"/>
<rect x="430" y="725" width="1" height="2"/>
<rect x="437" y="725" width="1" height="2"/>
<rect x="444" y="725" width="1" height="2"/>
<rect x="465" y="725" width="1" height="2"/>
<rect x="472" y="725" width="1" height="2"/>
<rect x="493" y="725" width="1" height="2"/>
<rect x="500" y="725" width="1" height="2"/>
<rect x="521" y="725" width="1" height="2"/>
<rect x="528" y="725" width="1" height="2"/>
<rect x="535" y="725" width="1" height="2"/>
<rect x="556" y="725" width="1" height="2"/>
<rect x="563" y="725" width="1" height="2"/>
<rect x="584" y="725" width="1" height="2"/>
<rect x="591" y="725" width="1" height="2"/>
<rect x="626" y="725" width="1" height="2"/>
<rect x="647" y="725" width="1" height="2"/>
<rect x="654" y="725" width="1" height="2"/>
<rect x="675" y="725" width="1" height="2"/>
<rect x="682" y="725" width="1" height="2"/>
<rect x="703" y="725" width="1" height="2"/>
<rect x="710" y="725" width="1" height="2"/>
<rect x="717" y="725" width="1" height="2"/>
<rect x="738" y="725" width="1" height="2"/>
<rect x="745" y="725" width="1" height="2"/>
<rect x="759" y="725" width="1" height="2"/>
<rect x="766" y="725" width="1" height="2"/>
<rect x="773" y="725" width="1" height="2"/>
<rect x="787" y="725" width="1" height="2"/>
<rect x="794" y="725" width="1" height="2"/>
<rect x="801" y="725" width="1" height="2"/>
<rect x="808" y="725" width="1" height="2"/>
<rect x="829" y="725" width="1" height="2"/>
<rect x="836" y="725" width="1" height="2"/>
<rect x="857" y="725" width="1" height="2"/>
<rect x="864" y="725" width="1" height="2"/>
<rect x="885" y="725" width="1" height="2"/>
<rect x="892" y="725" width="1" height="2"/>
<rect x="899" y="725" width="1" height="2"/>
<rect x="920" y="725" width="1" height="2"/>
<rect x="927" y="725" width="1" height="2"/>
<rect x="948" y="725" width="1" height="2"/>
<rect x="955" y="725" width="1" height="2"/>
<rect x="962" y="725" width="1" height="2"/>
<rect x="1011" y="725" width="1" height="2"/>
<rect x="1018" y="725" width="1" height="2"/>
<rect x="1039" y="725" width="1" height="2"/>
<rect x="1046" y="725" width="1" height="2"/>
<rect x="1067" y="725" width="1" height="2"/>
<rect x="1074" y="725" width="1" height="2"/>
<rect x="1081" y="725" width="1" height="2"/>
<rect x="1102" y="725" width="1" height="2"/>
<rect x="1109" y="725" width="1" height="2"/>
<rect x="1123" y="725" width="1" height="2"/>
<rect x="1130" y="725" width="1" height="2"/>
<rect x="1137" y="725" width="1" height="2"/>
<rect x="1151" y="725" width="1" height="2"/>
<rect x="1158" y="725" width="1" height="2"/>
<rect x="1165" y="725" width="1" height="2"/>
<rect x="1172" y="725" width="1" height="2"/>
<rect x="1193" y="725" width="1" height="2"/>
<rect x="1200" y="725" width="1" height="2"/>
<rect x="1221" y="725" width="1" height="2"/>
<rect x="1228" y="725" width="1" height="2"/>
</g>
<text x="0" y="12.6" fill="#000" textLength="63" lengthAdjust="spacingAndGlyphs">NIFTYFMCG</text>
<text x="68.4" y="12.6" fill="#000" textLength="51.6" lengthAdjust="spacingAndGlyphs">[N59915]</text>
<text x="120.7" y="12.6" fill="#000" textLength="52.3" lengthAdjust="spacingAndGlyphs">44911.15</text>
<text x="173.6" y="12.6" fill="#2a7a2a">,</text>
<text x="186" y="12.6" fill="#2a7a2a" textLength="36.6" lengthAdjust="spacingAndGlyphs">3.98%</text>
<text x="0" y="27.8" fill="#3fdc3f" textLength="25.6" lengthAdjust="spacingAndGlyphs">Price</text>
<text x="50.5" y="363.6" fill="#000" textLength="221.7" lengthAdjust="spacingAndGlyphs">Source : www.SpiderSoftwareIndia.Com</text>
<text x="1" y="381.9" fill="#3fdc3f" textLength="17" lengthAdjust="spacingAndGlyphs">Vol</text>
<text x="1" y="559" fill="#3fdc3f" textLength="62" lengthAdjust="spacingAndGlyphs">RSI(14,E,9)</text>
<text x="1209.6" y="27.7" fill="#000" textLength="20.2" lengthAdjust="spacingAndGlyphs">LNR</text>
<text x="1242" y="27.7" fill="#000" textLength="20" lengthAdjust="spacingAndGlyphs">IRIS</text>
<text x="1212.4" y="381.6" fill="#000" textLength="10.3" lengthAdjust="spacingAndGlyphs">Cr</text>
<text x="1236.6" y="353.9" fill="#000" textLength="33.4" lengthAdjust="spacingAndGlyphs">24000</text>
<text x="1236.6" y="323.9" fill="#000" textLength="33.4" lengthAdjust="spacingAndGlyphs">26000</text>
<text x="1236.6" y="293.8" fill="#000" textLength="33.4" lengthAdjust="spacingAndGlyphs">28000</text>
<text x="1236.6" y="263.7" fill="#000" textLength="33.4" lengthAdjust="spacingAndGlyphs">30000</text>
<text x="1236.6" y="233.7" fill="#000" textLength="33.4" lengthAdjust="spacingAndGlyphs">32000</text>
<text x="1236.6" y="203.6" fill="#000" textLength="33.4" lengthAdjust="spacingAndGlyphs">34000</text>
<text x="1236.6" y="173.5" fill="#000" textLength="33.4" lengthAdjust="spacingAndGlyphs">36000</text>
<text x="1236.6" y="143.4" fill="#000" textLength="33.4" lengthAdjust="spacingAndGlyphs">38000</text>
<text x="1236.6" y="113.4" fill="#000" textLength="33.4" lengthAdjust="spacingAndGlyphs">40000</text>
<text x="1236.6" y="83.3" fill="#000" textLength="33.4" lengthAdjust="spacingAndGlyphs">42000</text>
<text x="1236.6" y="53.2" fill="#000" textLength="33.4" lengthAdjust="spacingAndGlyphs">44000</text>
<text x="1236.6" y="516.1" fill="#000" textLength="20" lengthAdjust="spacingAndGlyphs">500</text>
<text x="1236.6" y="481.1" fill="#000" textLength="26.6" lengthAdjust="spacingAndGlyphs">1000</text>
<text x="1236.6" y="446.1" fill="#000" textLength="26.6" lengthAdjust="spacingAndGlyphs">1500</text>
<text x="1236.6" y="411.1" fill="#000" textLength="26.6" lengthAdjust="spacingAndGlyphs">2000</text>
<text x="1236.6" y="716.3" fill="#000" textLength="30.6" lengthAdjust="spacingAndGlyphs">30.00</text>
<text x="1236.6" y="688" fill="#000" textLength="30.6" lengthAdjust="spacingAndGlyphs">40.00</text>
<text x="1236.6" y="659.8" fill="#000" textLength="30.6" lengthAdjust="spacingAndGlyphs">50.00</text>
<text x="1236.6" y="631.5" fill="#000" textLength="30.6" lengthAdjust="spacingAndGlyphs">60.00</text>
<text x="1236.6" y="603.3" fill="#000" textLength="30.6" lengthAdjust="spacingAndGlyphs">70.00</text>
<text x="1236.6" y="575" fill="#000" textLength="30.6" lengthAdjust="spacingAndGlyphs">80.00</text>
<g shape-rendering="crispEdges"><rect x="1235" y="27" width="46" height="14" fill="#000"/><rect x="1235" y="40" width="43" height="5" fill="#000"/><rect x="1235" y="479" width="43" height="18" fill="#000"/></g>
<text x="1236.6" y="38.5" fill="#fff" textLength="44" lengthAdjust="spacingAndGlyphs">44911.1</text>
<text x="1236.6" y="491" fill="#fff" textLength="37.5" lengthAdjust="spacingAndGlyphs">858.50</text>
<text x="1298.8" y="13.9" fill="#000" textLength="23.6" lengthAdjust="spacingAndGlyphs">0.00</text>
<text x="1282.8" y="29.4" fill="#000" textLength="73.8" lengthAdjust="spacingAndGlyphs">22-09-22 Thu</text>
<text x="1282.8" y="44.1" fill="#3fdc3f" textLength="70.5" lengthAdjust="spacingAndGlyphs">Op43131.80</text>
<text x="1282.8" y="58.6" fill="#c82020" textLength="10.5" lengthAdjust="spacingAndGlyphs">Hi</text>
<text x="1299.6" y="58.6" fill="#c82020" textLength="53" lengthAdjust="spacingAndGlyphs">45034.50</text>
<text x="1282.8" y="72.5" fill="#c0c0c0" textLength="12.5" lengthAdjust="spacingAndGlyphs">Lo</text>
<text x="1299.6" y="72.5" fill="#c0c0c0" textLength="53" lengthAdjust="spacingAndGlyphs">42877.10</text>
<text x="1282.8" y="86.4" fill="#c020c0" textLength="9.5" lengthAdjust="spacingAndGlyphs">Cl</text>
<text x="1299.6" y="86.4" fill="#c020c0" textLength="53" lengthAdjust="spacingAndGlyphs">44911.15</text>
<text x="1283.2" y="397.8" fill="#3fdc3f" textLength="13" lengthAdjust="spacingAndGlyphs">Qt</text>
<text x="1313.5" y="397.8" fill="#3fdc3f" textLength="38.5" lengthAdjust="spacingAndGlyphs">858.50</text>
<text x="1282.4" y="575.6" fill="#3fdc3f" textLength="12" lengthAdjust="spacingAndGlyphs">Rs</text>
<text x="1320.9" y="575.6" fill="#3fdc3f" textLength="30.3" lengthAdjust="spacingAndGlyphs">70.79</text>
<text x="1282.4" y="590.1" fill="#c82020" textLength="12" lengthAdjust="spacingAndGlyphs">Rs</text>
<text x="1320.9" y="590.1" fill="#c82020" textLength="30.3" lengthAdjust="spacingAndGlyphs">67.01</text>
<text x="1329.9" y="736" fill="#000" textLength="19.7" lengthAdjust="spacingAndGlyphs">Wkl</text>
<text x="726.4" y="49.6" fill="#6b8fc9" textLength="300.6" lengthAdjust="spacingAndGlyphs" class="it">After scaling the 42,000 mark in this July, the Nifty</text>
<text x="726.4" y="67.2" fill="#6b8fc9" textLength="282.4" lengthAdjust="spacingAndGlyphs" class="it">FMCG index proceeded with a strong up move.</text>
<text x="698.1" y="321.2" fill="#757575" textLength="501.7" lengthAdjust="spacingAndGlyphs" class="it">There is a divergence on the Relative Strength Index (RSI), which further affirms the</text>
<text x="698.1" y="338.8" fill="#757575" textLength="521.9" lengthAdjust="spacingAndGlyphs" class="it">index strength. Thus, until the index defends this breakout mark of 42,000, the positive</text>
<text x="698.1" y="356.5" fill="#757575" textLength="248.9" lengthAdjust="spacingAndGlyphs" class="it">momentum could easily eye 47,000 mark.</text>
</svg></body></html>
